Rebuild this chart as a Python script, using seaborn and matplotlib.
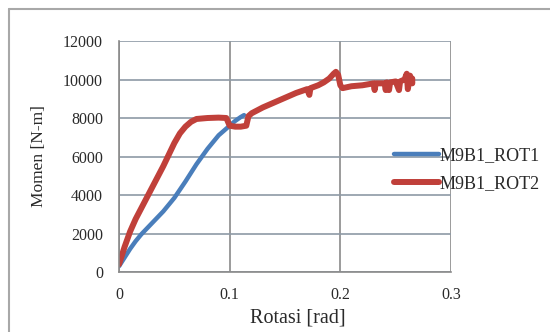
import numpy as np
import pandas as pd
import matplotlib
matplotlib.use('Agg')
import matplotlib.pyplot as plt
from matplotlib.lines import Line2D
import seaborn as sns

# data
rot1_x = [0, 0.005, 0.01, 0.015, 0.02, 0.03, 0.04, 0.05, 0.06, 0.07, 0.08, 0.09, 0.1, 0.105, 0.11, 0.113]
rot1_y = [300, 750, 1200, 1600, 1950, 2550, 3150, 3850, 4700, 5600, 6400, 7100, 7600, 7850, 8050, 8150]

rot2_x = [0, 0.005, 0.01, 0.015, 0.02, 0.03, 0.04, 0.045, 0.05, 0.055, 0.06, 0.065, 0.07, 0.08, 0.09,
          0.097, 0.1, 0.105, 0.11, 0.115, 0.117, 0.12, 0.13, 0.14, 0.15, 0.16, 0.165, 0.17, 0.172, 0.173,
          0.18, 0.185, 0.19, 0.194, 0.196, 0.198, 0.2, 0.202, 0.21, 0.22, 0.225, 0.23, 0.231, 0.232,
          0.24, 0.241, 0.242, 0.244, 0.245, 0.25, 0.253, 0.254, 0.258, 0.26, 0.261, 0.263, 0.265, 0.265]
rot2_y = [400, 1300, 2100, 2750, 3300, 4400, 5500, 6100, 6700, 7200, 7550, 7800, 7950, 8000, 8020,
          8000, 7600, 7550, 7550, 7600, 8100, 8250, 8550, 8800, 9050, 9300, 9400, 9500, 9200, 9550,
          9700, 9850, 10050, 10300, 10400, 10250, 9700, 9550, 9650, 9700, 9750, 9800, 9450, 9800,
          9800, 9450, 9850, 9450, 9850, 9900, 9450, 9900, 10000, 10300, 9500, 10200, 9800, 10050]

df1 = pd.DataFrame({'x': rot1_x, 'y': rot1_y})
df2 = pd.DataFrame({'x': rot2_x, 'y': rot2_y})

sns.set_style('white')
plt.rcParams['font.family'] = ['Liberation Serif', 'DejaVu Serif']

fig = plt.figure(figsize=(5.5, 3.32), dpi=100)
ax = fig.add_axes([0.2164, 0.1807, 0.6036, 0.6958])

# outer chart border (left and top only, the rest is cut off)
bx, by = 8.5 / 550, 1 - 8.5 / 332
fig.lines.append(Line2D([bx, bx], [0, by], transform=fig.transFigure, color='#a8a8a8', linewidth=1.5))
fig.lines.append(Line2D([bx, 1], [by, by], transform=fig.transFigure, color='#a8a8a8', linewidth=1.5))

sns.lineplot(data=df1, x='x', y='y', sort=False, estimator=None, color='#4a7ebb', linewidth=3.2,
             label='M9B1_ROT1', ax=ax)
sns.lineplot(data=df2, x='x', y='y', sort=False, estimator=None, color='#c0403a', linewidth=4.3,
             label='M9B1_ROT2', ax=ax)

ax.set_xlim(0, 0.3)
ax.set_ylim(0, 12000)
ax.set_xticks([0, 0.1, 0.2, 0.3])
ax.set_xticklabels(['0', '0.1', '0.2', '0.3'])
ax.set_yticks(range(0, 12001, 2000))
ax.yaxis.grid(True, color='#8e9aa6', linewidth=1.2)
ax.xaxis.grid(True, color='#8a8a8a', linewidth=1.2)
ax.set_axisbelow(True)
for s in ['top', 'right']:
    ax.spines[s].set_visible(False)
for s in ['left', 'bottom']:
    ax.spines[s].set_color('#8a8a8a')
    ax.spines[s].set_linewidth(1.2)
ax.tick_params(axis='both', direction='out', length=4.5, width=1.2, color='#8a8a8a',
               labelsize=11.5, labelcolor='#2a2a2a')
ax.tick_params(axis='y', pad=7)
ax.tick_params(axis='x', pad=6)
ax.set_xlabel('Rotasi [rad]', fontsize=14.5, color='#2a2a2a')
ax.set_ylabel('Momen [N-m]', fontsize=12.5, color='#2a2a2a')
ax.xaxis.set_label_coords((298 - 119) / 332, -0.16)
ax.yaxis.set_label_coords(-0.217, 0.50)

ax.legend(loc='center left', bbox_to_anchor=(394 / 550, 1 - 170 / 332), bbox_transform=fig.transFigure,
          frameon=False, fontsize=13, handlelength=2.5, handletextpad=0.0, labelspacing=0.6,
          borderpad=0, borderaxespad=0, labelcolor='#2a2a2a')

fig.savefig('out.png', dpi=100)
